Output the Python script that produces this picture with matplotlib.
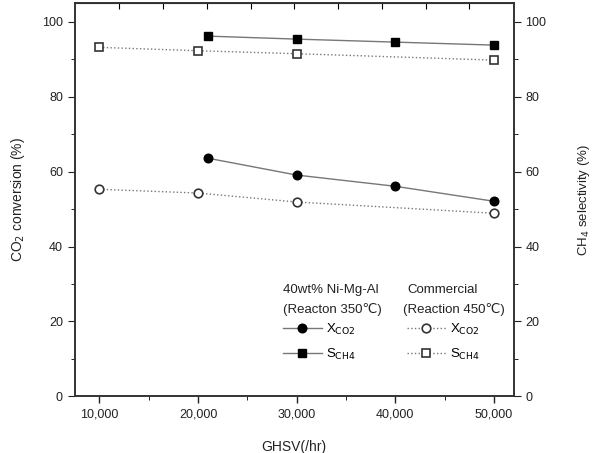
import matplotlib.pyplot as plt
import numpy as np
from matplotlib.ticker import MultipleLocator, FixedLocator, FuncFormatter

plt.rcParams['font.family'] = ['Liberation Sans', 'DejaVu Sans']

# 40wt% Ni-Mg-Al catalyst (350 C)
ni_ghsv = [21000, 30000, 40000, 50000]
ni_xco2 = [63.6, 59.1, 56.1, 52.1]
ni_sch4 = [96.2, 95.4, 94.6, 93.8]

# commercial catalyst (450 C)
com_ghsv = [10000, 20000, 30000, 50000]
com_xco2 = [55.3, 54.3, 51.9, 48.9]
com_sch4 = [93.2, 92.3, 91.5, 89.8]

xticks = [10000, 20000, 30000, 40000, 50000]

fig = plt.figure(figsize=(5.98, 4.53), dpi=100)
ax = fig.add_axes([0.125, 0.125, 0.734, 0.868])
ax2 = ax.twinx()

line_c = '#777777'
l1, = ax.plot(ni_ghsv, ni_xco2, '-', color=line_c, lw=1.0, marker='o', ms=6.2,
              mfc='black', mec='black')
l3, = ax.plot(com_ghsv, com_xco2, ':', color=line_c, lw=1.0, marker='o', ms=6.2,
              mfc='white', mec='#333333', mew=1.2)
l2, = ax2.plot(ni_ghsv, ni_sch4, '-', color=line_c, lw=1.0, marker='s', ms=5.8,
               mfc='black', mec='black')
l4, = ax2.plot(com_ghsv, com_sch4, ':', color=line_c, lw=1.0, marker='s', ms=5.8,
               mfc='white', mec='#333333', mew=1.2)

for a in (ax, ax2):
    a.set_ylim(0, 105)
    a.yaxis.set_major_locator(MultipleLocator(20))
    a.yaxis.set_minor_locator(MultipleLocator(10))
ax.set_xlim(7500, 52000)
ax.set_xticks(xticks)
ax.xaxis.set_minor_locator(MultipleLocator(5000))
ax.xaxis.set_major_formatter(FuncFormatter(lambda v, p: f'{int(v):,}'))

ax.tick_params(axis='x', which='major', direction='out', length=5, width=1,
               labelsize=9, colors='#222222', top=False)
ax.tick_params(axis='x', which='minor', direction='out', length=3, top=False)
ax.tick_params(axis='y', which='major', direction='out', length=5, labelsize=9,
               colors='#222222')
ax.tick_params(axis='y', which='minor', direction='out', length=3)
ax2.tick_params(axis='y', which='major', direction='out', length=5, labelsize=9,
                colors='#222222')
ax2.tick_params(axis='y', which='minor', direction='out', length=3)

# inward ticks along the top edge
top = ax.secondary_xaxis('top')
top.xaxis.set_major_locator(FixedLocator(np.arange(12000, 50500, 4440)))
top.tick_params(direction='in', length=4, labeltop=False)

for a in (ax, ax2):
    for s in a.spines.values():
        s.set_color('#333333')
        s.set_linewidth(1.2)

ax.set_ylabel('CO$_2$ conversion (%)', fontsize=10, color='#222222', labelpad=11)
ax2.set_ylabel('CH$_4$ selectivity (%)', fontsize=9.5, color='#222222', labelpad=21)
ax.set_xlabel('GHSV(/hr)', fontsize=10, color='#222222', labelpad=14)

# legend block
fs = 9.5
ax.text(0.475, 0.270, '40wt% Ni-Mg-Al', transform=ax.transAxes, fontsize=fs,
        va='center', color='#222222')
ax.text(0.475, 0.221, '(Reacton 350\u2103)', transform=ax.transAxes, fontsize=fs,
        va='center', color='#222222')
ax.text(0.758, 0.270, 'Commercial', transform=ax.transAxes, fontsize=fs,
        va='center', color='#222222')
ax.text(0.747, 0.221, '(Reaction 450\u2103)', transform=ax.transAxes, fontsize=fs,
        va='center', color='#222222')
leg = ax.legend([l1, l2, l3, l4], ['X$_{\\rm CO2}$', 'S$_{\\rm CH4}$',
                                  'X$_{\\rm CO2}$', 'S$_{\\rm CH4}$'],
                ncol=2, loc='upper left', bbox_to_anchor=(0.475, 0.19),
                frameon=False, fontsize=9.5, handlelength=2.9, handletextpad=0.35,
                columnspacing=3.9, labelspacing=0.75, borderaxespad=0,
                borderpad=0)

fig.savefig('out.png', dpi=100)
